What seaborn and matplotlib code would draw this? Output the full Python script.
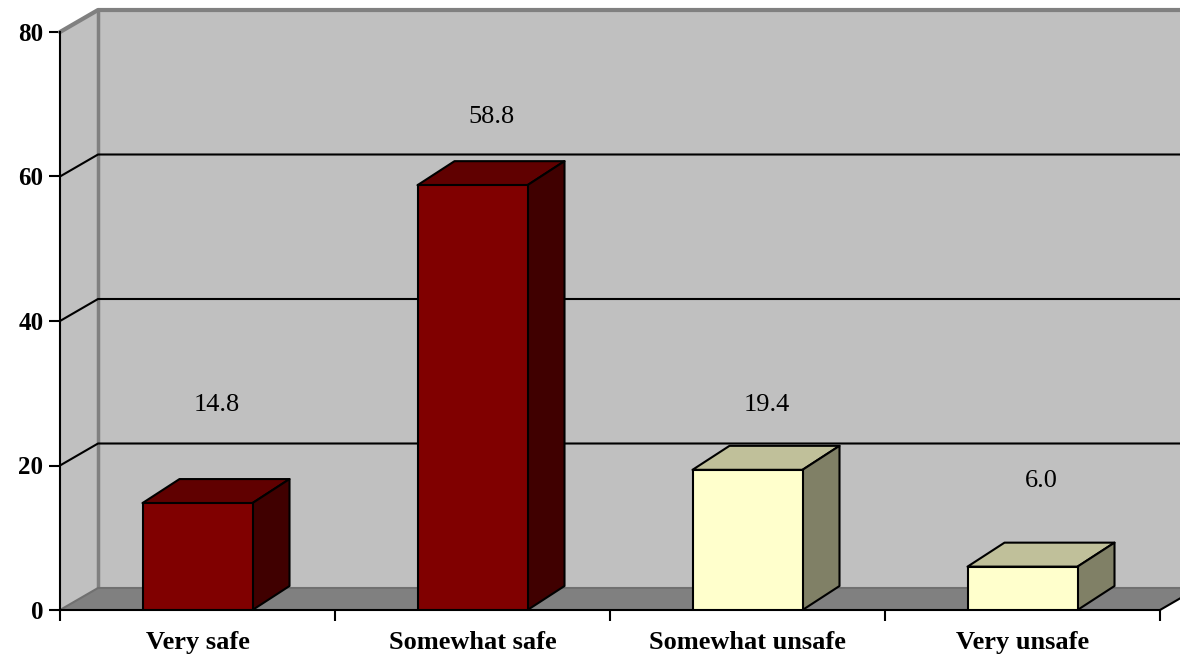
import matplotlib
matplotlib.use("Agg")
import pandas as pd
import matplotlib.pyplot as plt
import seaborn as sns
from matplotlib.patches import Polygon

# data (percent)
categories = ["Very safe", "Somewhat safe", "Somewhat unsafe", "Very unsafe"]
percent = [14.8, 58.8, 19.4, 6.0]
label_height = [28.4, 68.2, 28.4, 17.9]   # where the value labels sit
y_ticks = [0, 20, 40, 60, 80]

front_colors = ["#800000", "#800000", "#FFFFCC", "#FFFFCC"]
top_colors = ["#600000", "#600000", "#C0C09A", "#C0C09A"]
side_colors = ["#400000", "#400000", "#808066", "#808066"]

sns.set_style("white")
plt.rcParams['font.family'] = ['Liberation Serif', 'DejaVu Serif']
plt.rcParams['text.color'] = 'black'
plt.rcParams['xtick.color'] = 'black'
plt.rcParams['ytick.color'] = 'black'

W, H = 1180, 660
fig = plt.figure(figsize=(W / 100, H / 100), dpi=100)
ax = fig.add_axes([60 / W, 50 / H, 1100 / W, 578 / H])
ax.patch.set_visible(False)

df = pd.DataFrame({"category": categories, "percent": percent})
sns.barplot(data=df, x="category", y="percent", hue="category", palette=front_colors,
            saturation=1, width=0.4, edgecolor="black", linewidth=1.5,
            legend=False, ax=ax, zorder=6)

ax.set_xlim(-0.5, 3.5)
ax.set_ylim(0, 80)

# 3d depth offsets, in data units
dx = 38 * 4 / 1100
dy = 22 * 80 / 578
bdx = 37 * 4 / 1100
bdy = 24 * 80 / 578

x0, x1 = -0.5, 3.5
ext = 0.3
# back wall, left wall, floor
ax.add_patch(Polygon([(x0 + dx, dy), (x1 + dx + ext, dy), (x1 + dx + ext, 80 + dy), (x0 + dx, 80 + dy)],
                     fc="#C0C0C0", ec="none", clip_on=False, zorder=0))
ax.add_patch(Polygon([(x0, 0), (x0 + dx, dy), (x0 + dx, 80 + dy), (x0, 80)],
                     fc="#C0C0C0", ec="none", clip_on=False, zorder=0))
ax.add_patch(Polygon([(x0, 0), (x1, 0), (x1 + dx, dy), (x0 + dx, dy)],
                     fc="#808080", ec="none", clip_on=False, zorder=1))
ax.plot([x0 + dx, x0 + dx], [dy, 80 + dy], color="#808080", lw=2.5, clip_on=False, zorder=1)
ax.plot([x0, x0 + dx, x1 + dx + ext], [80, 80 + dy, 80 + dy], color="#808080", lw=3, clip_on=False, zorder=1)
ax.plot([x0, x0 + dx, x1 + dx + ext], [0, dy, dy], color="#707070", lw=1.5, clip_on=False, zorder=1)
ax.plot([x1, x1 + dx], [0, dy], color="black", lw=1.5, clip_on=False, zorder=2)
for v in y_ticks[1:-1]:
    ax.plot([x0, x0 + dx, x1 + dx + ext], [v, v + dy, v + dy], color="black", lw=1.5,
            clip_on=False, zorder=2)

# top and side faces of each bar, from the bars seaborn drew
for i, bar in enumerate(list(ax.patches)[:len(categories)]):
    bx, bw, bh = bar.get_x(), bar.get_width(), bar.get_height()
    ax.add_patch(Polygon([(bx, bh), (bx + bdx, bh + bdy), (bx + bw + bdx, bh + bdy), (bx + bw, bh)],
                         fc=top_colors[i], ec="black", lw=1.5, zorder=5, joinstyle="round"))
    ax.add_patch(Polygon([(bx + bw, 0), (bx + bw + bdx, bdy), (bx + bw + bdx, bh + bdy), (bx + bw, bh)],
                         fc=side_colors[i], ec="black", lw=1.5, zorder=5, joinstyle="round"))
    ax.text(bx + bw / 2 + dx / 2, label_height[i], "{:.1f}".format(percent[i]),
            ha="center", va="center", fontsize=19, color="black", zorder=7)

for s in ["top", "right"]:
    ax.spines[s].set_visible(False)
for s in ["left", "bottom"]:
    ax.spines[s].set_color("black")
    ax.spines[s].set_linewidth(1.5)
    ax.spines[s].set_zorder(3)

ax.set_yticks(y_ticks)
ax.set_yticklabels([str(v) for v in y_ticks], fontweight="bold", fontsize=18)
ax.tick_params(axis="y", left=True, length=8, width=1.5, pad=4)

ax.set_xticks([-0.5, 0.5, 1.5, 2.5, 3.5])
ax.set_xticklabels([])
ax.set_xticks([0, 1, 2, 3], minor=True)
ax.set_xticklabels(categories, minor=True, fontweight="bold", fontsize=19)
ax.tick_params(axis="x", which="major", bottom=True, length=8, width=1.5)
ax.tick_params(axis="x", which="minor", bottom=True, length=0, pad=15)
ax.set_xlabel("")
ax.set_ylabel("")

fig.savefig("out.png", dpi=100)
